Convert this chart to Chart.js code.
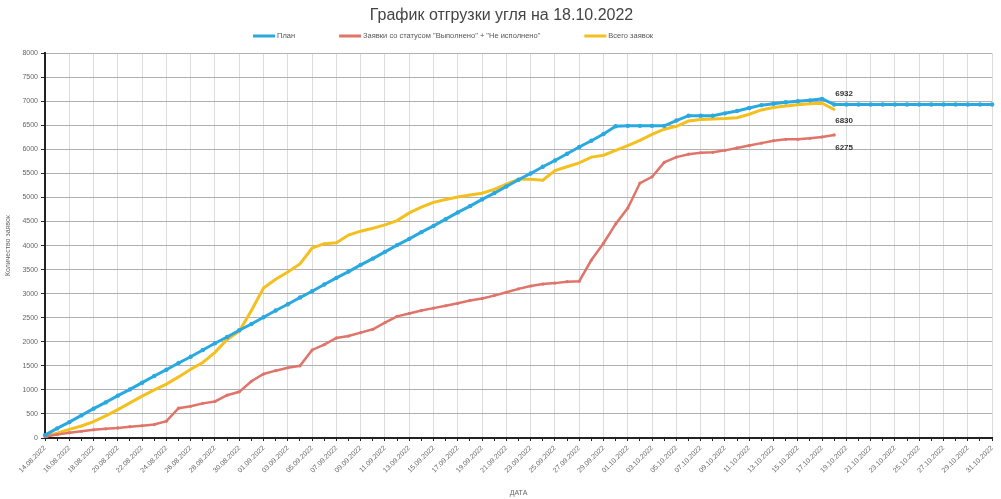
<!DOCTYPE html>
<html>
<head>
<meta charset="utf-8">
<script src="https://cdn.jsdelivr.net/npm/chart.js@4/dist/chart.umd.min.js"></script>
<style>
  html, body { margin: 0; padding: 0; background: #fff; }
  #wrap { width: 1001px; height: 499px; }
</style>
</head>
<body>
<div id="wrap"><canvas id="shipChart" width="1001" height="499"></canvas></div>
<script>
//-----------------------------------------
// DATA
//-----------------------------------------
const dates = [
  "14.08.2022","15.08.2022","16.08.2022","17.08.2022","18.08.2022","19.08.2022","20.08.2022","21.08.2022",
  "22.08.2022","23.08.2022","24.08.2022","25.08.2022","26.08.2022","27.08.2022","28.08.2022","29.08.2022",
  "30.08.2022","31.08.2022","01.09.2022","02.09.2022","03.09.2022","04.09.2022","05.09.2022","06.09.2022",
  "07.09.2022","08.09.2022","09.09.2022","10.09.2022","11.09.2022","12.09.2022","13.09.2022","14.09.2022",
  "15.09.2022","16.09.2022","17.09.2022","18.09.2022","19.09.2022","20.09.2022","21.09.2022","22.09.2022",
  "23.09.2022","24.09.2022","25.09.2022","26.09.2022","27.09.2022","28.09.2022","29.09.2022","30.09.2022",
  "01.10.2022","02.10.2022","03.10.2022","04.10.2022","05.10.2022","06.10.2022","07.10.2022","08.10.2022",
  "09.10.2022","10.10.2022","11.10.2022","12.10.2022","13.10.2022","14.10.2022","15.10.2022","16.10.2022",
  "17.10.2022","18.10.2022","19.10.2022","20.10.2022","21.10.2022","22.10.2022","23.10.2022","24.10.2022",
  "25.10.2022","26.10.2022","27.10.2022","28.10.2022","29.10.2022","30.10.2022","31.10.2022"
];

// План
const planValues = [
  60, 200, 330, 470, 610, 740, 880, 1010, 1150, 1290, 1420, 1560, 1690, 1830, 1970, 2100,
  2240, 2370, 2510, 2650, 2780, 2920, 3050, 3190, 3330, 3460, 3600, 3730, 3870, 4010, 4140, 4280,
  4410, 4550, 4690, 4820, 4960, 5090, 5230, 5370, 5500, 5640, 5770, 5910, 6050, 6180, 6320, 6480,
  6490, 6490, 6490, 6490, 6600, 6700, 6700, 6700, 6750, 6800, 6860, 6920, 6950, 6980, 7000, 7020,
  7050, 6932,
  6932, 6932, 6932, 6932, 6932, 6932, 6932, 6932, 6932, 6932, 6932, 6932, 6932
];

// Заявки со статусом "Выполнено" + "Не исполнено"
const doneValues = [
  30, 70, 110, 140, 170, 190, 210, 235, 255, 280, 350, 620, 660, 720, 760, 890,
  960, 1180, 1330, 1400, 1460, 1500, 1830, 1940, 2080, 2120, 2190, 2260, 2400, 2530, 2590, 2650,
  2700, 2750, 2800, 2860, 2900, 2960, 3030, 3100, 3160, 3200, 3220, 3250, 3260, 3700, 4050, 4450,
  4780, 5300, 5430, 5730, 5840, 5900, 5930, 5940, 5980, 6030, 6080, 6130, 6180, 6210, 6210, 6230,
  6260, 6300
];

// Всего заявок
const totalValues = [
  30, 100, 180, 250, 340, 460, 590, 730, 870, 1000, 1120, 1270, 1430, 1570, 1780, 2050,
  2220, 2650, 3120, 3300, 3450, 3620, 3950, 4040, 4060, 4220, 4300, 4360, 4430, 4520, 4680, 4800,
  4900, 4960, 5010, 5050, 5090, 5170, 5280, 5380, 5380, 5360, 5560, 5640, 5720, 5840, 5880, 5980,
  6080, 6190, 6310, 6420, 6480, 6590, 6620, 6630, 6640, 6660, 6730, 6820, 6870, 6900, 6930, 6950,
  6960, 6830
];

const seriesNames = ["План", "Заявки со статусом \"Выполнено\" + \"Не исполнено\"", "Всего заявок"];
const seriesColors = ["#2aa9e0", "#e0746a", "#f3c020"];
const endLabels = ["6932", "6275", "6830"];
const endIndex = 65;   // 18.10.2022

const FONT = "'Liberation Sans', Arial, sans-serif";

//------------------------------------------------------
// LEGEND (drawn by hand so the spacing matches)
//------------------------------------------------------
const legendPlugin = {
  id: "handLegend",
  afterDraw(chart) {
    const ctx = chart.ctx;
    ctx.save();
    ctx.font = "7.5px " + FONT;
    ctx.textBaseline = "middle";
    ctx.textAlign = "left";
    let x = 253;
    const y = 36;
    [0, 1, 2].forEach(i => {
      ctx.fillStyle = seriesColors[i];
      ctx.fillRect(x, y - 1.5, 22, 3);
      ctx.fillStyle = "#555";
      ctx.fillText(seriesNames[i], x + 24, y);
      x += 24 + ctx.measureText(seriesNames[i]).width + 44;
    });
    ctx.restore();
  }
};

//------------------------------------------------------
// END VALUE LABELS
//------------------------------------------------------
const endLabelPlugin = {
  id: "endLabels",
  afterDatasetsDraw(chart) {
    const ctx = chart.ctx;
    const shifts = [-11, 13, 11];
    ctx.save();
    ctx.font = "bold 8px " + FONT;
    ctx.fillStyle = "#333";
    ctx.textAlign = "left";
    ctx.textBaseline = "middle";
    chart.data.datasets.forEach((ds, i) => {
      const pt = chart.getDatasetMeta(i).data[endIndex];
      if (!pt) return;
      ctx.fillText(endLabels[i], pt.x + 1, pt.y + shifts[i]);
    });
    ctx.restore();
  }
};

//------------------------------------------------------
// CHART
//------------------------------------------------------
new Chart(document.getElementById("shipChart"), {
  type: "line",
  data: {
    labels: dates,
    datasets: [
      {
        label: seriesNames[0],
        data: planValues,
        borderColor: seriesColors[0],
        backgroundColor: seriesColors[0],
        borderWidth: 3,
        pointRadius: 2.2,
        pointBorderWidth: 0,
        tension: 0
      },
      {
        label: seriesNames[1],
        data: doneValues,
        borderColor: seriesColors[1],
        backgroundColor: seriesColors[1],
        borderWidth: 2.5,
        pointRadius: 1.6,
        pointBorderWidth: 0,
        tension: 0
      },
      {
        label: seriesNames[2],
        data: totalValues,
        borderColor: seriesColors[2],
        backgroundColor: seriesColors[2],
        borderWidth: 3,
        pointRadius: 1.2,
        pointBorderWidth: 0,
        tension: 0
      }
    ]
  },
  options: {
    responsive: false,
    animation: false,
    layout: { padding: { left: 2, right: 0, top: 0, bottom: 0 } },
    plugins: {
      title: {
        display: true,
        text: "График отгрузки угля на 18.10.2022",
        color: "#444",
        font: { family: FONT, size: 16, weight: "normal" },
        padding: { top: 6, bottom: 28 }
      },
      legend: { display: false },
      tooltip: { enabled: false }
    },
    scales: {
      x: {
        offset: false,
        title: {
          display: true,
          text: "ДАТА",
          color: "#666",
          font: { family: FONT, size: 7 },
          padding: { top: 0, bottom: 2 }
        },
        grid: {
          color: c => (c.index % 2 === 0 ? "#dcdcdc" : "rgba(0,0,0,0)"),
          tickColor: "#222",
          tickLength: 3
        },
        border: { color: "#222", width: 2 },
        ticks: {
          autoSkip: false,
          minRotation: 45,
          maxRotation: 45,
          color: "#666",
          font: { family: FONT, size: 7 },
          callback: function (v, i) { return i % 2 === 0 ? dates[i] : ""; }
        },
        afterFit: s => { s.height = 61; }
      },
      y: {
        min: 0,
        max: 8000,
        title: {
          display: true,
          text: "Количество заявок",
          color: "#666",
          font: { family: FONT, size: 7 },
          padding: 2
        },
        grid: { color: "#b0b0b0", tickColor: "#222", tickLength: 4 },
        border: { color: "#222", width: 2 },
        ticks: {
          stepSize: 500,
          color: "#666",
          font: { family: FONT, size: 7 },
          padding: 3,
          callback: v => String(v)
        },
        afterFit: s => { s.width = 43; }
      }
    }
  },
  plugins: [endLabelPlugin, legendPlugin]
});
</script>
</body>
</html>
